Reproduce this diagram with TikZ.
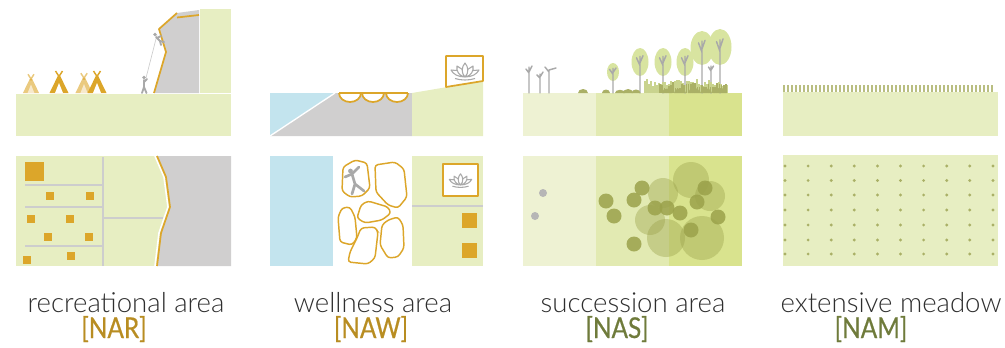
\documentclass[tikz,border=0pt]{standalone}
\usepackage{fontspec}
\newfontfamily\titlefont{Lato Light}
\newfontfamily\codefont[FakeStretch=0.85, FakeBold=0.6]{Lato}
\definecolor{lgreen}{HTML}{E7EEC2}
\definecolor{water}{HTML}{C3E4EE}
\definecolor{rock}{HTML}{D0CFCF}
\definecolor{ochre}{HTML}{DCA62A}
\definecolor{pathgray}{HTML}{CDCDCD}
\definecolor{figgray}{HTML}{A9A9A9}
\definecolor{sucA}{HTML}{EEF2D3}
\definecolor{sucB}{HTML}{E2EAB2}
\definecolor{sucC}{HTML}{D9E38E}
\definecolor{canopy}{HTML}{D8E4A0}
\definecolor{olive}{HTML}{9BA24B}
\definecolor{grassl}{HTML}{C9D38E}
\definecolor{txt}{HTML}{2E2E2E}
\definecolor{ochretxt}{HTML}{B88D22}
\definecolor{olivetxt}{HTML}{6F7B3B}
\usetikzlibrary{calc}
\tikzset{
  edge/.style={ochre, line width=1.3pt, line join=round},
  gpath/.style={pathgray, line width=1.3pt},
  figure/.style={figgray, line width=1.4pt, line cap=round, line join=round},
  stone/.style={ochre, fill=white, line width=1.1pt, rounded corners=2.2pt},
  trunk/.style={figgray, line width=1.1pt, line cap=round},
  title/.style={anchor=base, inner sep=0pt, text=txt, font=\titlefont\fontsize{20.7}{22}\selectfont},
  code/.style={anchor=base, inner sep=0pt, font=\codefont\fontsize{21.5}{22}\selectfont},
  tepee/.pic={
    \fill (-9.5,0) -- (-1.2,-17) -- (1.2,-17) -- (9.5,0) -- cycle;
    \fill[white] (-4,0) -- (0,-10) -- (4,0) -- cycle;
    \draw[line width=1.1pt] (-3.5,-22) -- (1,-15) (3.5,-22) -- (-1,-15);
  },
  lotus/.pic={
    \draw[figgray, line width=0.8pt, line join=round]
      (0,0) .. controls (-4,-4) and (-3.5,-10) .. (0,-14) .. controls (3.5,-10) and (4,-4) .. (0,0)
      (0,0) .. controls (-6,-1) and (-9,-6) .. (-8,-11) .. controls (-5,-10) .. (-2.6,-7.5)
      (0,0) .. controls (6,-1) and (9,-6) .. (8,-11) .. controls (5,-10) .. (2.6,-7.5)
      (0,0) .. controls (-7,0) and (-12,-3) .. (-14,-7) .. controls (-11,-7.5) .. (-8.3,-6.5)
      (0,0) .. controls (7,0) and (12,-3) .. (14,-7) .. controls (11,-7.5) .. (8.3,-6.5)
      (-10,1.5) .. controls (-4,3.5) and (4,3.5) .. (10,1.5);
  }
}
\begin{document}
\begin{tikzpicture}[x=0.75pt,y=-0.75pt]
\useasboundingbox (0,0) rectangle (1005,347);

% ---------------- recreational area: section ----------------
\fill[lgreen] (16,94) rectangle (231,136);
\fill[lgreen] (200,9) rectangle (231,93);
\fill[rock] (154,93) -- (166,52) -- (159,29) -- (177,13) -- (199,10) -- (199,93) -- cycle;
\draw[edge] (154,93) -- (166,52) -- (159,29) -- (177,13);
\draw[edge] (177,17.5) -- (199,15);
% rope and climbers
\draw[pathgray, line width=0.5pt] (146,78) -- (157,35);
\draw[figure] (144,80) -- (144,87) (144,87) -- (142,93) (144,87) -- (146.5,93) (144,82) -- (147,79);
\fill[figgray] (144,77.5) circle (1.8);
\draw[figure] (156,37) -- (160,41) (160,41) -- (164,42) (160,41) -- (161,45) (157,38) -- (161,36);
\fill[figgray] (155,34.5) circle (1.8);
% tents
\pic[ochre, opacity=0.6, scale=0.85] at (31,93) {tepee};
\pic[ochre] at (59,93) {tepee};
\pic[ochre, opacity=0.6, scale=0.9] at (84,93) {tepee};
\pic[ochre] at (97,93) {tepee};

% ---------------- recreational area: plan ----------------
\fill[lgreen] (16,156) rectangle (231,266);
\fill[rock] (157,156) -- (166,177) -- (170,207) -- (161,233) -- (157,266) -- (231,266) -- (231,156) -- cycle;
\draw[white, line width=1.2pt, line join=round] (155,156) -- (164,177) -- (168,207) -- (159,233) -- (155,266);
\draw[edge] (157,156) -- (166,177) -- (170,207) -- (161,233) -- (157,266);
\draw[gpath] (103,157) -- (103,266);
\draw[gpath] (25,185) -- (103,185) (25,207) -- (103,207) (25,246) -- (103,246) (103,218) -- (163,218);
\fill[ochre] (25,162) rectangle (44,181);
\foreach \sx/\sy in {50/196, 90/196, 31/219, 70/219, 48/237, 89/237, 27/260, 71/256}
  \fill[ochre] (\sx-4,\sy-4) rectangle (\sx+4,\sy+4);

% ---------------- wellness area: section ----------------
\fill[water] (270,93) -- (335,93) -- (270,136) -- cycle;
\fill[rock] (335,93) -- (412,93) -- (412,136) -- (270,136) -- cycle;
\draw[white, line width=1pt] (335,93) -- (270,136);
\fill[lgreen] (412,93) -- (483,81) -- (483,136) -- (412,136) -- cycle;
\foreach \bx in {350,373,397}
  \draw[edge, fill=white] (\bx-11,93) arc[start angle=180, end angle=0, x radius=11, y radius=9];
\draw[edge] (339,93) -- (408,93);
\draw[edge, fill=white] (446,56) -- (483,56) -- (483,81) -- (446,87) -- cycle;
\pic at (465,77) {lotus};

% ---------------- wellness area: plan ----------------
\fill[water] (270,156) rectangle (333,266);
\fill[lgreen] (412,156) rectangle (483,266);
\draw[gpath] (412,206) -- (483,206);
\draw[edge, fill=white] (443,164) rectangle (478,196);
\pic[scale=0.8] at (460.5,185) {lotus};
\fill[ochre] (462,213) rectangle (477,228);
\fill[ochre] (462,243) rectangle (477,258);
% stepping stones
\draw[stone] (343,167) -- (355,160) -- (367,163) -- (370,188) -- (362,196) -- (350,197) -- (342,191) -- cycle;
\draw[stone] (375,165) -- (395,162) -- (404,169) -- (407,197) -- (398,208) -- (388,205) -- (376,192) -- cycle;
\draw[stone] (361,205) -- (368,201) -- (388,207) -- (391,213) -- (382,220) -- (365,223) -- (357,218) -- cycle;
\draw[stone] (342,208) -- (350,207) -- (355,217) -- (357,238) -- (352,245) -- (340,242) -- (338,217) -- cycle;
\draw[stone] (361,228) -- (375,227) -- (378,232) -- (375,258) -- (368,264) -- (348,262) -- (350,252) -- (357,238) -- cycle;
\draw[stone] (388,220) -- (398,217) -- (403,225) -- (404,248) -- (398,257) -- (388,258) -- (380,245) -- (382,225) -- cycle;
\draw[figure, line width=2pt] (345,177) -- (352,174) -- (359,167) (352,174) -- (355,184) (355,184) -- (352,194) (355,184) -- (364,191);
\fill[figgray] (350.5,171) circle (2.4);

% ---------------- succession area: section ----------------
\fill[sucA] (523,93) rectangle (596,136);
\fill[sucB] (596,93) rectangle (669,136);
\fill[sucC] (669,93) rectangle (742,136);
% dead trees
\draw[trunk] (529,93) -- (529,67) (529,73) -- (526,69) (529,72) -- (532,66);
\draw[trunk] (540,93) -- (540,74) (540,78) -- (537,75) (540,77) -- (543,72);
\draw[trunk] (549,93) -- (549,70) (549,72) -- (545,67) (549,70) -- (556,68);
% trees
\foreach \cx/\cy/\rx/\ry in {613/72/6/9, 640/62/8.5/14, 663/62/8.5/14, 685/62/8.5/14, 702/48/11.5/17, 720/47/11.5/18}{
  \fill[canopy] (\cx,\cy) ellipse[x radius=\rx, y radius=\ry];
  \draw[trunk] (\cx,93) -- (\cx,\cy-0.4*\ry) (\cx,\cy+0.25*\ry) -- (\cx-3.5,\cy-0.3*\ry) (\cx,\cy+0.05*\ry) -- (\cx+3,\cy-0.45*\ry);
}
\draw[trunk] (711,93) -- (711,66) (711,71) -- (708.5,67) (711,70) -- (713.5,66);
% undergrowth
\pgfmathsetseed{11}
\foreach \i in {0,...,41}{
  \pgfmathsetmacro\gx{645+2*\i}
  \pgfmathsetmacro\gh{7+7*rnd}
  \draw[grassl, line width=1.1pt] (\gx,93) -- (\gx,93-\gh);
}
\foreach \i in {0,...,30}{
  \pgfmathsetmacro\gx{660+2.2*\i}
  \pgfmathsetmacro\gh{4+8*rnd}
  \draw[olive!85, line width=1.1pt] (\gx,93) -- (\gx,93-\gh);
}
\foreach \bx/\rx/\ry in {583/5/4, 606/4/3.5, 620/5/3.2, 628/5/4, 636/4.5/3.5, 667/5/4.5, 680/6/4.5, 694/6/5, 706/6/4.5, 720/7/5}
  \fill[olive!85] (\bx-\rx,93) arc[start angle=180, end angle=360, x radius=\rx, y radius=\ry] -- cycle;

% ---------------- succession area: plan ----------------
\fill[sucA] (523,156) rectangle (596,266);
\fill[sucB] (596,156) rectangle (669,266);
\fill[sucC] (669,156) rectangle (742,266);
\fill[figgray!85] (543,193) circle (4) (535,216) circle (4);
\foreach \cx/\cy/\r in {663/193/15, 691/180/18, 710/196/15, 650/220/15, 666/238/19, 702/238/22}
  \fill[olive, opacity=0.4] (\cx,\cy) circle (\r);
\foreach \cx/\cy in {606/201, 614/216, 634/200, 642/188, 655/208, 667/208, 680/213, 697/202, 705/188, 718/217, 691/230, 634/244}
  \fill[olive, opacity=0.85] (\cx,\cy) circle (7.5);

% ---------------- extensive meadow ----------------
\fill[lgreen] (783,92) rectangle (998,136);
\foreach \x in {784,788,...,993}
  \draw[olive!70, line width=1.4pt] (\x,85) -- (\x,92);
\fill[lgreen] (783,155) rectangle (998,266);
\foreach \i in {0,...,9}
  \foreach \y in {166,180.5,195,210,225,240,254}
    \fill[olive!85] (785+23.1*\i,\y) circle (1.6);

% ---------------- labels ----------------
\node[title] (t1) at (126,312) {recreational area};
\node[code, text=ochretxt] (c1) at (114,338) {[NAR]};
\node[title] (t2) at (373,312) {wellness area};
\node[code, text=ochretxt] (c2) at (371,338) {[NAW]};
\node[title] (t3) at (633,312) {succession area};
\node[code, text=olivetxt] (c3) at (617,338) {[NAS]};
\node[title] (t4) at (891,312) {extensive meadow};
\node[code, text=olivetxt] (c4) at (871,338) {[NAM]};
\end{tikzpicture}
\end{document}
